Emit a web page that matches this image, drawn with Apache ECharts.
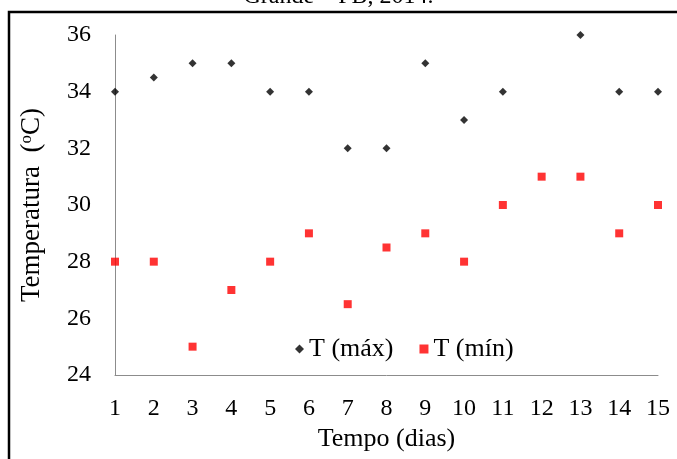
<!DOCTYPE html>
<html><head><meta charset="utf-8">
<script src="https://cdn.jsdelivr.net/npm/echarts@6/dist/echarts.min.js"></script>
<style>html,body{margin:0;padding:0;background:#fff}#c{width:677px;height:459px}</style>
</head><body><div id="c"></div>
<script>
const days = [1,2,3,4,5,6,7,8,9,10,11,12,13,14,15];
const tMax = [34,34.5,35,35,34,34,32,32,35,33,34,null,36,34,34];
const tMin = [28,28,25,27,28,29,26.5,28.5,29,28,30,31,31,29,30];
const yTicks = [24,26,28,30,32,34,36];

const font = 'Liberation Serif';
const chart = echarts.init(document.getElementById('c'), null, {renderer:'canvas'});
chart.setOption({
  animation:false,
  textStyle:{fontFamily:font},
  graphic:[
    {type:'rect', shape:{x:9, y:12, width:700, height:470}, style:{fill:'none', stroke:'#000', lineWidth:2.5}},
    {type:'text', left:'center', top:-15, style:{text:'Grande – PB, 2014.', font:'24px "Liberation Serif"', fill:'#000'}}
  ],
  grid:{left:115, right:19, top:35, bottom:84},
  legend:{
    data:[{name:'T (máx)', icon:'diamond'},{name:'T (mín)', icon:'rect'}],
    left:290, top:331, itemGap:26, itemWidth:9, itemHeight:9,
    textStyle:{fontFamily:font, fontSize:26, color:'#000'}
  },
  xAxis:{
    type:'value', min:1, max:15, interval:1,
    name:'Tempo (dias)', nameLocation:'middle', nameGap:51,
    nameTextStyle:{fontFamily:font, fontSize:26, color:'#000'},
    axisLine:{show:true, lineStyle:{color:'#8c8c8c', width:1}},
    axisTick:{show:false}, splitLine:{show:false},
    axisLabel:{color:'#000', fontFamily:font, fontSize:24, margin:22}
  },
  yAxis:{
    type:'value', min:yTicks[0], max:yTicks[yTicks.length-1], interval:2,
    name:'Temperatura  ({s|o}C)', nameLocation:'middle', nameGap:70,
    nameTextStyle:{fontFamily:font, fontSize:27, color:'#000', rich:{s:{fontFamily:font, fontSize:17, verticalAlign:'top', color:'#000'}}},
    axisLine:{show:true, lineStyle:{color:'#8c8c8c', width:1}},
    axisTick:{show:false}, splitLine:{show:false},
    axisLabel:{color:'#000', fontFamily:font, fontSize:24, margin:24}
  },
  series:[
    {name:'T (máx)', type:'scatter', symbol:'diamond', symbolSize:8, itemStyle:{color:'#000'},
     data: days.map((d,i)=>[d,tMax[i]]).filter(p=>p[1]!==null)},
    {name:'T (mín)', type:'scatter', symbol:'rect', symbolSize:8, itemStyle:{color:'#ff0000'},
     data: days.map((d,i)=>[d,tMin[i]])}
  ]
});
</script></body></html>
